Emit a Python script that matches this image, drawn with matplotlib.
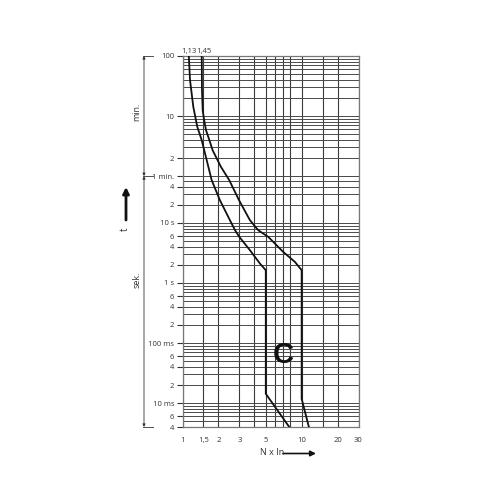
import matplotlib
matplotlib.use('Agg')
import matplotlib.pyplot as plt
from matplotlib.transforms import blended_transform_factory

plt.rcParams['font.family'] = ['Open Sans', 'DejaVu Sans']

# tripping curve C, current multiple N x In vs time in seconds
left_n = [1.13, 1.156, 1.232, 1.331, 1.449, 1.596, 1.758, 2.06, 2.50, 2.76, 3.0, 3.68, 4.47, 5.0, 5.0, 7.87]
left_t = [6000, 2389, 857, 398, 239, 111, 51.3, 23.9, 11.1, 7.55, 5.84, 3.51, 2.10, 1.63, 0.0143, 0.004]
right_n = [1.45, 1.457, 1.477, 1.52, 1.575, 1.68, 1.79, 2.10, 2.47, 2.98, 3.68, 4.32, 5.25, 7.01, 8.78, 10.0, 10.0, 11.5]
right_t = [6000, 1630, 751, 511, 350, 239, 162, 86, 51.3, 23.9, 11.1, 7.55, 5.84, 3.28, 2.24, 1.63, 0.0118, 0.004]

xtick_vals = [1, 1.5, 2, 3, 5, 10, 20, 30]
xtick_labels = ['1', '1,5', '2', '3', '5', '10', '20', '30']
xgrid = [1, 1.5, 2, 3, 4, 5, 6, 7, 8, 10, 15, 20, 30]

ytick_vals = [6000, 600, 120, 60, 40, 20, 10, 6, 4, 2, 1, 0.6, 0.4, 0.2, 0.1,
              0.06, 0.04, 0.02, 0.01, 0.006, 0.004]
ytick_labels = ['100', '10', '2', '1 min.', '4', '2', '10 s', '6', '4', '2', '1 s',
                '6', '4', '2', '100 ms', '6', '4', '2', '10 ms', '6', '4']

# horizontal grid: seconds below 1 min, minutes above
ygrid = []
for e in [0.001, 0.01, 0.1, 1, 10]:
    for k in range(1, 10):
        v = k * e
        if 0.004 <= v <= 60:
            ygrid.append(v)
for e in [1, 10]:
    for k in range(1, 10):
        ygrid.append(k * e * 60)
ygrid.append(6000)

fig = plt.figure(figsize=(5, 5), dpi=100)
ax = fig.add_axes([0.365, 0.146, 0.352, 0.742])
ax.set_xscale('log')
ax.set_yscale('log')
ax.set_xlim(1, 30)
ax.set_ylim(0.004, 6000)

for v in xgrid:
    ax.axvline(v, color='#3a3a3a', lw=0.8, zorder=1)
for h in ygrid:
    ax.axhline(h, color='#4a4a4a', lw=0.7, zorder=1)

ax.plot(left_n, left_t, color='#111111', lw=1.3, zorder=3)
ax.plot(right_n, right_t, color='#111111', lw=1.3, zorder=3)

ax.set_xticks(xtick_vals, xtick_labels)
ax.set_yticks(ytick_vals, ytick_labels)
ax.xaxis.set_minor_locator(matplotlib.ticker.NullLocator())
ax.yaxis.set_minor_locator(matplotlib.ticker.NullLocator())
ax.tick_params(axis='x', length=0, pad=7, labelsize=5.5, colors='#333333')
ax.tick_params(axis='y', length=4, width=0.8, pad=2, labelsize=5.5, colors='#333333')
for s in ax.spines.values():
    s.set_color('#777777')
    s.set_linewidth(0.9)

ax.text(1.13, 6300, '1,13', ha='center', va='bottom', fontsize=5.5, color='#333333')
ax.text(1.52, 6300, '1,45', ha='center', va='bottom', fontsize=5.5, color='#333333')

ax.text(7.05, 0.062, 'C', ha='center', va='center', fontsize=21, fontweight='bold',
        family='Liberation Sans', color='#111111', zorder=4)

# brackets min. / sek.
tr = blended_transform_factory(fig.transFigure, ax.transData)
for t0, t1 in [(6000, 60), (60, 0.004)]:
    ax.annotate('', xy=(0.288, t1), xytext=(0.288, t0), xycoords=tr, textcoords=tr,
                arrowprops=dict(arrowstyle='<|-|>', lw=0.6, color='#333333',
                                mutation_scale=4, shrinkA=0, shrinkB=0),
                annotation_clip=False)
for t in [6000, 60, 0.004]:
    ax.plot([0.286, 0.306], [t, t], transform=tr, color='#333333', lw=0.6, clip_on=False)

fig.text(0.274, 0.776, 'min.', rotation=90, ha='center', va='center', fontsize=6.5, color='#333333')
fig.text(0.274, 0.44, 'sek.', rotation=90, ha='center', va='center', fontsize=6.5, color='#333333')

# t arrow
fig.text(0.25, 0.542, 't', rotation=90, ha='center', va='center', fontsize=7, color='#333333')
ax.annotate('', xy=(0.252, 0.626), xytext=(0.252, 0.56), xycoords='figure fraction',
            arrowprops=dict(arrowstyle='-|>', lw=2, color='#111111', mutation_scale=9,
                            shrinkA=0, shrinkB=0))

# N x In arrow
fig.text(0.544, 0.095, 'N x In', ha='center', va='center', fontsize=6.5, color='#333333')
ax.annotate('', xy=(0.632, 0.093), xytext=(0.566, 0.093), xycoords='figure fraction',
            arrowprops=dict(arrowstyle='-|>', lw=1.2, color='#111111', mutation_scale=8,
                            shrinkA=0, shrinkB=0))

fig.savefig('out.png', dpi=100)
